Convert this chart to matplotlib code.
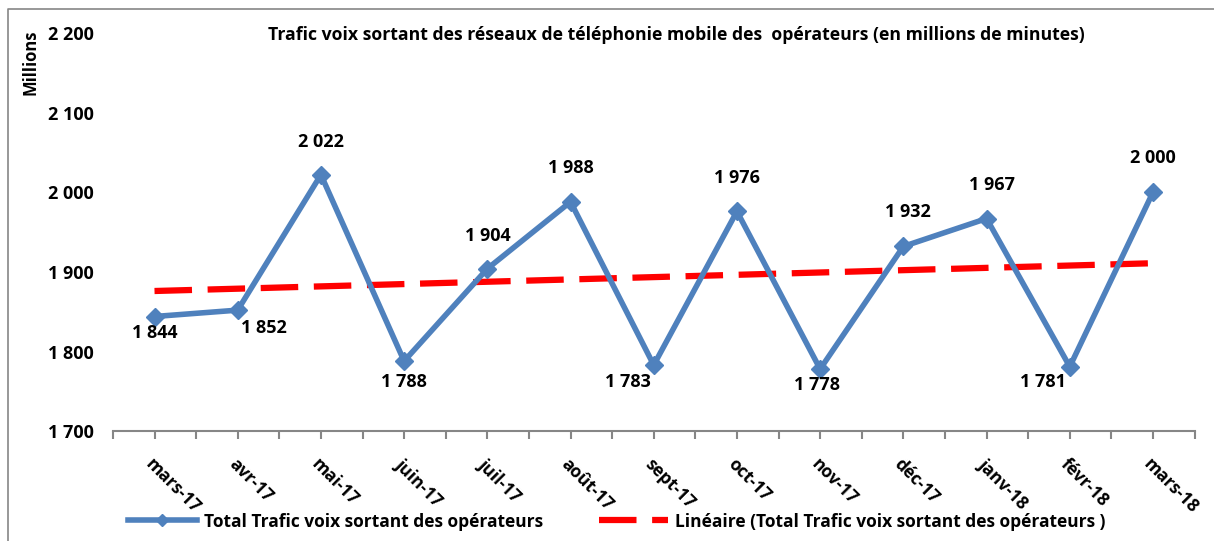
import numpy as np
import matplotlib
matplotlib.use('Agg')
import matplotlib.pyplot as plt
from matplotlib.lines import Line2D
from matplotlib.ticker import FuncFormatter, MultipleLocator

plt.rcParams['font.family'] = ['Open Sans', 'DejaVu Sans']

months = ['mars-17', 'avr-17', 'mai-17', 'juin-17', 'juil-17', 'août-17', 'sept-17',
          'oct-17', 'nov-17', 'déc-17', 'janv-18', 'févr-18', 'mars-18']
trafic = [1844, 1852, 2022, 1788, 1904, 1988, 1783, 1976, 1778, 1932, 1967, 1781, 2000]
# data label offsets in pixels (dx, dy)
label_offsets = [(0, -16), (26, -18), (0, 33), (0, -21), (0, 33), (0, 34), (-26, -17),
                 (0, 33), (-3, -16), (5, 34), (5, 34), (-27, -15), (0, 34)]

blue = '#4f81bd'
x = np.arange(len(months))

fig = plt.figure(figsize=(12.14, 5.41), dpi=100)
ax = fig.add_axes([0.093, 0.203, 0.891, 0.736])

ax.plot(x, trafic, color=blue, lw=4, marker='D', ms=9, zorder=3)
coef = np.polyfit(x, trafic, 1)
ax.plot(x, np.polyval(coef, x), color='#ff0000', lw=4.5, dashes=(6, 2.5), zorder=2)

for xi, v, (dx, dy) in zip(x, trafic, label_offsets):
    ax.annotate(f'{v:,}'.replace(',', ' '), (xi, v), xytext=(dx, dy), textcoords='offset pixels',
                ha='center', va='center', fontsize=13, fontweight='bold', zorder=4)

ax.set_xlim(-0.5, len(months) - 0.5)
ax.set_ylim(1700, 2200)
ax.yaxis.set_major_locator(MultipleLocator(100))
ax.yaxis.set_major_formatter(FuncFormatter(lambda v, p: f'{int(v):,}'.replace(',', ' ')))
ax.set_xticks(x)
ax.set_xticks(np.arange(-0.5, len(months)), minor=True)
ax.set_xticklabels(months, rotation=-45, ha='left', rotation_mode='anchor',
                   fontsize=12.5, fontweight='bold')
ax.tick_params(axis='x', which='both', length=6, color='#868686', width=1.5, pad=11)
ax.tick_params(axis='y', length=0, labelsize=13, pad=14)
for lbl in ax.get_yticklabels():
    lbl.set_fontweight('bold')
for s in ['top', 'right', 'left']:
    ax.spines[s].set_visible(False)
ax.spines['bottom'].set_color('#868686')
ax.spines['bottom'].set_linewidth(1.5)

fig.text(0.025, 0.885, 'Millions', rotation=90, ha='center', va='center',
         fontsize=12, fontweight='bold')
fig.text(0.557, 0.935, 'Trafic voix sortant des réseaux de téléphonie mobile des  opérateurs (en millions de minutes)',
         ha='center', va='center', fontsize=12.7, fontweight='bold')

handles = [Line2D([], [], color=blue, lw=4, marker='D', ms=6),
           Line2D([], [], color='#ff0000', lw=4.5, dashes=(6, 2.5))]
labels = ['Total Trafic voix sortant des opérateurs',
          'Linéaire (Total Trafic voix sortant des opérateurs )']
fig.legend(handles, labels, loc='center', bbox_to_anchor=(0.508, 0.036), ncol=2, frameon=False,
           prop={'weight': 'bold', 'size': 12.5}, columnspacing=3.2, handlelength=4,
           handletextpad=0.4)

fig.add_artist(Line2D([8 / 1214, 8 / 1214, 1], [0, 1 - 9 / 541, 1 - 9 / 541],
                      transform=fig.transFigure, color='#868686', lw=1.2))

fig.savefig('out.png', dpi=100)
